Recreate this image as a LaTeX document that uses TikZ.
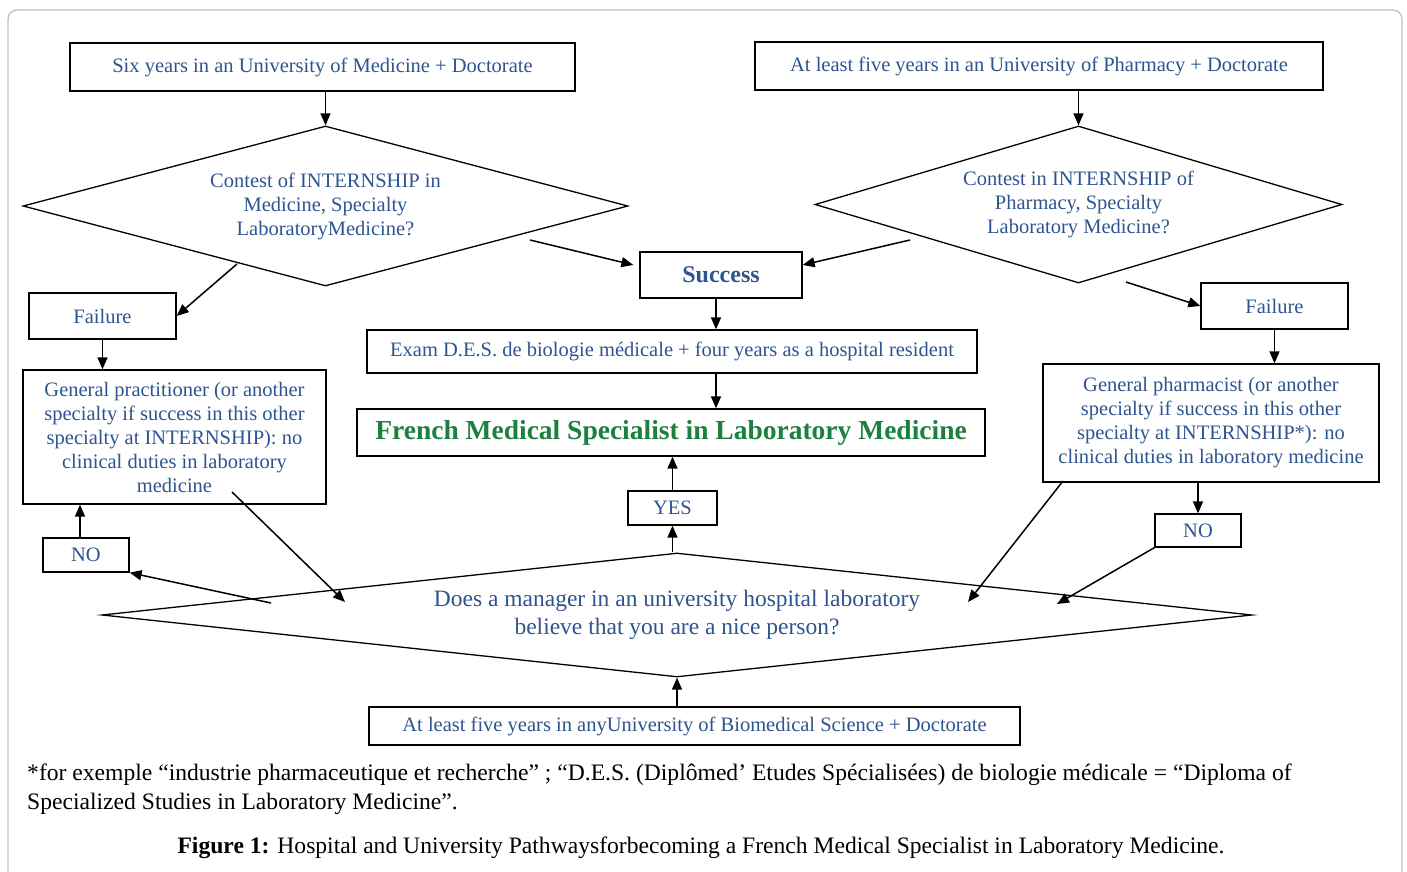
\documentclass[tikz,border=0pt]{standalone}
\usepackage{fontspec}
\setmainfont{Liberation Serif}
\usetikzlibrary{shapes.geometric,arrows.meta}

\definecolor{txtblue}{RGB}{46,84,143}
\definecolor{txtgreen}{RGB}{28,128,62}
\definecolor{framegray}{RGB}{190,190,190}

\tikzset{
  box/.style={draw=black, line width=1.3pt, fill=white, text=txtblue, inner sep=0pt,
    align=center, font=\fontsize{20.5}{24}\selectfont},
  question/.style={diamond, draw=black, line width=1.3pt, inner sep=0pt,
    align=center, text=txtblue, font=\fontsize{20.5}{24}\selectfont},
  link/.style={line width=1.5pt, -{Triangle[length=12pt,width=10pt]}},
  note/.style={inner sep=0pt, font=\fontsize{23.6}{28}\selectfont},
}

\begin{document}
\begin{tikzpicture}[x=1pt, y=-1pt]
  \useasboundingbox (0,0) rectangle (1407,872);
  \draw[framegray, line width=1.2pt, rounded corners=9pt] (8,872) -- (8,10) -- (1402,10) -- (1402,872);

  % top row
  \node[box, minimum width=505pt, minimum height=48pt] (med) at (322.5,67) {Six years in an University of Medicine + Doctorate};
  \node[box, minimum width=568pt, minimum height=48pt] (pha) at (1039,66) {At least five years in an University of Pharmacy + Doctorate};

  \node[question, minimum width=605pt, minimum height=160pt, aspect=3.78] (contmed) at (325.5,206)
    {Contest of INTERNSHIP in\\Medicine, Specialty\\LaboratoryMedicine?};
  \node[question, minimum width=527pt, minimum height=157pt, aspect=3.36] (contpha) at (1078.5,204.5)
    {Contest in INTERNSHIP of\\Pharmacy, Specialty\\Laboratory Medicine?};

  \node[box, minimum width=162pt, minimum height=46pt, font=\fontsize{24}{28}\selectfont\bfseries] (success) at (721,275) {Success};
  \node[box, minimum width=147pt, minimum height=46pt] (failmed) at (102.5,316) {Failure};
  \node[box, minimum width=147pt, minimum height=46pt] (failpha) at (1274.5,306) {Failure};

  \node[box, minimum width=610pt, minimum height=43pt] (exam) at (672,351.5) {Exam D.E.S. de biologie médicale + four years as a hospital resident};
  \node[box, minimum width=628pt, minimum height=47pt, text=txtgreen, font=\fontsize{27.5}{32}\selectfont\bfseries] (fms) at (671,432.5)
    {French Medical Specialist in Laboratory Medicine};

  \node[box, minimum width=303pt, minimum height=134pt] (gp) at (174.5,437)
    {General practitioner (or another\\specialty if success in this other\\specialty at INTERNSHIP): no\\clinical duties in laboratory\\medicine};
  \node[box, minimum width=336pt, minimum height=118pt] (gph) at (1211,423)
    {General pharmacist (or another\\specialty if success in this other\\specialty at INTERNSHIP*): no\\clinical duties in laboratory medicine};

  \node[box, minimum width=89pt, minimum height=34pt] (yes) at (672.5,508) {YES};
  \node[box, minimum width=86pt, minimum height=34pt] (nomed) at (86,555) {NO};
  \node[box, minimum width=86pt, minimum height=33pt] (nopha) at (1198,530.5) {NO};

  \node[question, minimum width=1150pt, minimum height=124pt, aspect=9.27, font=\fontsize{23.5}{28}\selectfont] (nice) at (677,615)
    {Does a manager in an university hospital laboratory\\believe that you are a nice person?};

  \node[box, minimum width=651pt, minimum height=38pt] (bio) at (694.5,726) {At least five years in anyUniversity of Biomedical Science + Doctorate};

  % free ends
  \coordinate (medyes) at (530,240);
  \coordinate (medno) at (237,264);
  \coordinate (phayes) at (910,240);
  \coordinate (phano) at (1126,282);
  \coordinate (spine) at (716,300);
  \coordinate (gpnice) at (232,492);
  \coordinate (nicenomed) at (271,603);
  \coordinate (gphnice) at (1063,481);
  \coordinate (nice1) at (345,602);
  \coordinate (nice2) at (968,602);
  \coordinate (nice3) at (1057,604);

  \draw[link] (med.south -| contmed.north) -- (contmed.north);
  \draw[link] (pha.south -| contpha.north) -- (contpha.north);
  \draw[link] (medyes) -- ([xshift=-6pt]success.173);
  \draw[link] (phayes) -- (success.7);
  \draw[link] (medno) -- (failmed.east);
  \draw[link] (phano) -- (failpha.west);
  \draw[link] (success.south -| spine) -- (exam.north -| spine);
  \draw[link] (exam.south -| spine) -- (fms.north -| spine);
  \draw[link] (failmed.south) -- (failmed.south |- gp.north);
  \draw[link] (failpha.south) -- (failpha.south |- gph.north);
  \draw[link] (yes.north) -- (yes.north |- fms.south);
  \draw[link] (yes.south |- nice.north) -- (yes.south);
  \draw[link] (gph.south -| nopha.north) -- (nopha.north);
  \draw[link] ([xshift=-6pt]nomed.north) -- ([xshift=-6pt]nomed.north |- gp.south);
  \draw[link] (nicenomed) -- (nomed.south east);
  \draw[link] (gpnice) -- (nice1);
  \draw[link] (gphnice) -- (nice2);
  \draw[link] (nopha.south west) -- (nice3);
  \draw[link] (bio.north -| nice.south) -- (nice.south);

  \node[note, anchor=base west] (foot1) at (27,780)
    {*for exemple “industrie pharmaceutique et recherche” ; “D.E.S. (Diplômed’ Etudes Spécialisées) de biologie médicale = “Diploma of};
  \node[note, anchor=base west] (foot2) at (27,809)
    {Specialized Studies in Laboratory Medicine”.};
  \node[note, anchor=base] (caption) at (701,853)
    {\textbf{Figure 1:} Hospital and University Pathwaysforbecoming a French Medical Specialist in Laboratory Medicine.};
\end{tikzpicture}
\end{document}
